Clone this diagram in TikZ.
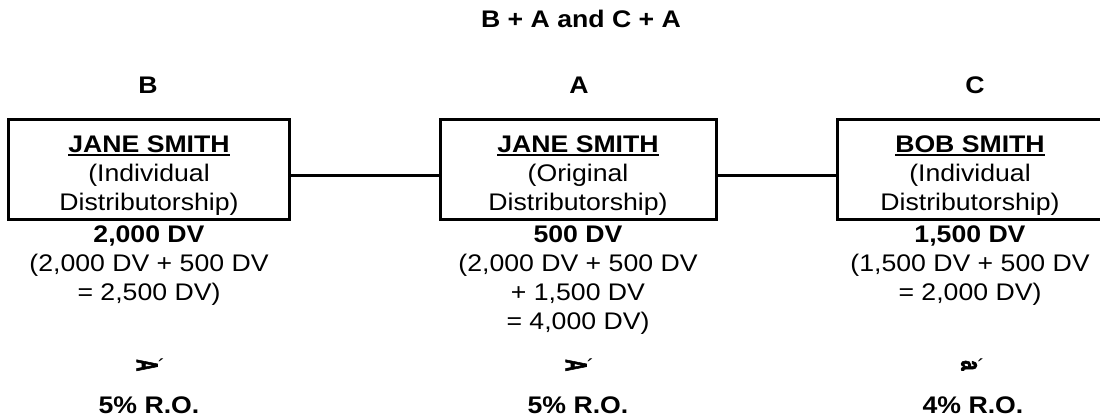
\documentclass[tikz,border=0pt]{standalone}
\usepackage{fontspec}
\setmainfont{Liberation Sans}[FakeStretch=1.11]
\newfontfamily\markfont{Liberation Sans}[BoldFeatures={FakeBold=3}]
\usepackage{graphicx}
% thick underline used for the names in the boxes
\newcommand\nameline[1]{\setbox0\hbox{#1}\rlap{\rule[-3.5pt]{\wd0}{2pt}}\box0}
% sideways marks printed above the R.O. figures
\newcommand\markA{{\markfont\bfseries\fontsize{30}{30}\selectfont\rotatebox{-90}{\scalebox{0.55}[1.0]{A}}}\kern0.5pt\raisebox{-14pt}{\fontsize{20}{20}\selectfont\char"00B4}}
\newcommand\marka{{\markfont\bfseries\fontsize{30}{30}\selectfont\rotatebox{-90}{\scalebox{0.6}[0.95]{a}}}\kern0.5pt\raisebox{-13pt}{\fontsize{20}{20}\selectfont\char"00B4}}
\begin{document}
\begin{tikzpicture}[x=1pt,y=-1pt,line width=3pt,
  every node/.style={inner sep=0pt,font=\fontsize{24}{29}\selectfont},
  box/.style={draw,line width=3pt,minimum height=99pt},
  txt/.style={anchor=base,align=center},
  head/.style={txt,font=\fontsize{24}{29}\selectfont\bfseries},
  link/.style={draw,line width=3pt}]
\useasboundingbox (0,0) rectangle (1100,417);
\begin{scope}
\clip (0,0) rectangle (1100,417);
% distributorship boxes
\node[box,minimum width=280.5pt] (boxB) at (148.75,169.5) {};
\node[box,minimum width=276pt]   (boxA) at (578,169.5) {};
\node[box,minimum width=268pt]   (boxC) at (971,169.5) {};
\end{scope}
% connecting lines
\path[link] ([yshift=-5.5pt]boxB.east) -- ([yshift=-5.5pt]boxA.west);
\path[link] ([yshift=-5.5pt]boxA.east) -- ([yshift=-5.5pt]boxC.west);

% headings
\node[head] (title) at (581,28) {B + A and C + A};
\node[head] (lblB) at (148,94) {B};
\node[head] (lblA) at (579,94) {A};
\node[head] (lblC) at (975,94) {C};

% names inside the boxes (base anchor = baseline of the last line)
\node[txt] (nameB) at (149,210) {\nameline{\bfseries JANE SMITH}\\(Individual\\Distributorship)};
\node[txt] (nameA) at (578,210) {\nameline{\bfseries JANE SMITH}\\(Original\\Distributorship)};
\node[txt] (nameC) at (970,210) {\nameline{\bfseries BOB SMITH}\\(Individual\\Distributorship)};

% volume figures
\node[txt] (dvB) at (149,300) {{\bfseries 2,000 DV}\\(2,000 DV + 500 DV\\= 2,500 DV)};
\node[txt] (dvA) at (578,329) {{\bfseries 500 DV}\\(2,000 DV + 500 DV\\+ 1,500 DV\\= 4,000 DV)};
\node[txt] (dvC) at (970,300) {{\bfseries 1,500 DV}\\(1,500 DV + 500 DV\\= 2,000 DV)};

% marks
\node (mkB) at (151,366) {\markA};
\node (mkA) at (580,366) {\markA};
\node (mkC) at (973,366) {\marka};

% royalty overrides
\node[head] (roB) at (149,413) {5\% R.O.};
\node[head] (roA) at (578,413) {5\% R.O.};
\node[head] (roC) at (973,413) {4\% R.O.};
\end{tikzpicture}
\end{document}
